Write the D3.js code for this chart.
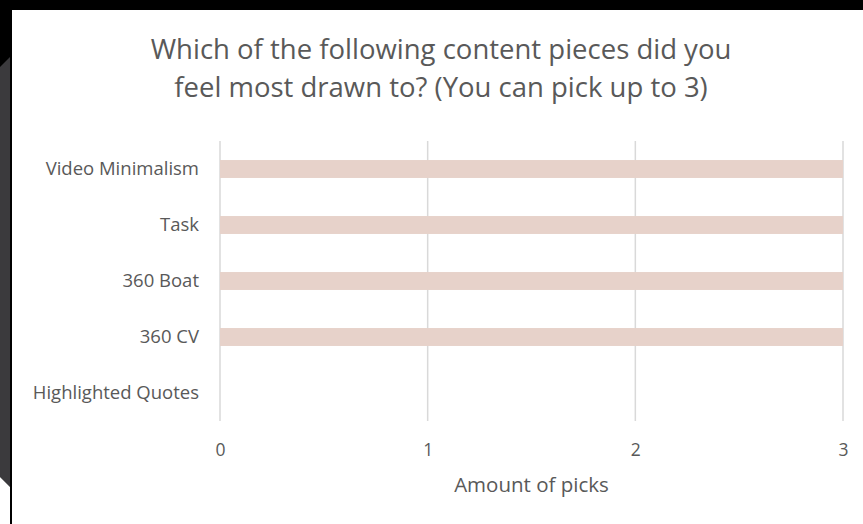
<!DOCTYPE html>
<html>
<head>
<meta charset="utf-8">
<script src="https://cdn.jsdelivr.net/npm/d3@7"></script>
<style>
  html, body { margin: 0; padding: 0; background: #000; }
  svg { display: block; }
</style>
</head>
<body>
<div id="chart"></div>
<script>
var titleLines = ['Which of the following content pieces did you', 'feel most drawn to? (You can pick up to 3)'],
    categories = ['Video Minimalism', 'Task', '360 Boat', '360 CV', 'Highlighted Quotes'],
    picks = [3, 3, 3, 3, 0],
    xTicks = [0, 1, 2, 3],
    xTitle = 'Amount of picks'

var width = 863,
    height = 524,
    margins = { top: 141, right: 20, bottom: 103, left: 220 },
    innerWidth = width - margins.left - margins.right,
    innerHeight = height - margins.top - margins.bottom,
    textColor = '#595959',
    font = '"Open Sans", Lato, sans-serif'

var svg = d3.select('#chart').append('svg')
    .attr('width', width)
    .attr('height', height)

// backdrop: dark slide edge and white panel
svg.append('rect').attr('width', width).attr('height', height).attr('fill', '#000')
svg.append('path')
    .attr('d', 'M0,67 L10,57 L10,487 L0,477 Z')
    .attr('fill', '#3b3a3d')
svg.append('path')
    .attr('d', 'M0,477 L10,487 L10,524 L0,524 Z')
    .attr('fill', '#fff')
svg.append('rect')
    .attr('x', 12).attr('y', 10)
    .attr('width', width - 12).attr('height', height - 10)
    .attr('fill', '#fff')

// title
svg.append('text')
    .attr('font-family', font)
    .attr('font-size', 27.5)
    .attr('fill', textColor)
    .attr('text-anchor', 'middle')
    .selectAll('tspan')
    .data(titleLines)
    .join('tspan')
    .attr('x', 441)
    .attr('y', (d, i) => 59 + i * 38)
    .text(d => d)

var x = d3.scaleLinear().domain([0, 3]).range([0, innerWidth]),
    y = d3.scaleBand().domain(categories).range([0, innerHeight]).paddingInner(0.68).paddingOuter(0.34)

var graph = svg.append('g')
    .attr('transform', 'translate(' + margins.left + ',' + margins.top + ')')

// gridlines
graph.append('g')
    .selectAll('line')
    .data(xTicks)
    .join('line')
    .attr('x1', d => x(d)).attr('x2', d => x(d))
    .attr('y1', 0).attr('y2', innerHeight)
    .attr('stroke', '#d9d9d9')
    .attr('stroke-width', 1.5)

// bars
graph.append('g')
    .selectAll('rect')
    .data(categories)
    .join('rect')
    .attr('x', x(0))
    .attr('y', d => y(d))
    .attr('width', (d, i) => x(picks[i]) - x(0))
    .attr('height', y.bandwidth())
    .attr('fill', '#e7d2ca')

// y labels
var yAxis = graph.append('g')
    .call(d3.axisLeft(y).tickSize(0).tickPadding(21))
yAxis.select('.domain').remove()
yAxis.selectAll('text')
    .attr('font-family', font)
    .attr('font-size', 18.5)
    .attr('fill', textColor)

// x labels
var xAxis = graph.append('g')
    .attr('transform', 'translate(0,' + innerHeight + ')')
    .call(d3.axisBottom(x).tickValues(xTicks).tickFormat(d3.format('d')).tickSize(0).tickPadding(23))
xAxis.select('.domain').remove()
xAxis.selectAll('text')
    .attr('font-family', font)
    .attr('font-size', 17.5)
    .attr('fill', textColor)

// axis title
graph.append('text')
    .attr('x', innerWidth / 2)
    .attr('y', innerHeight + 71)
    .attr('text-anchor', 'middle')
    .attr('font-family', font)
    .attr('font-size', 20.5)
    .attr('fill', textColor)
    .text(xTitle)
</script>
</body>
</html>
